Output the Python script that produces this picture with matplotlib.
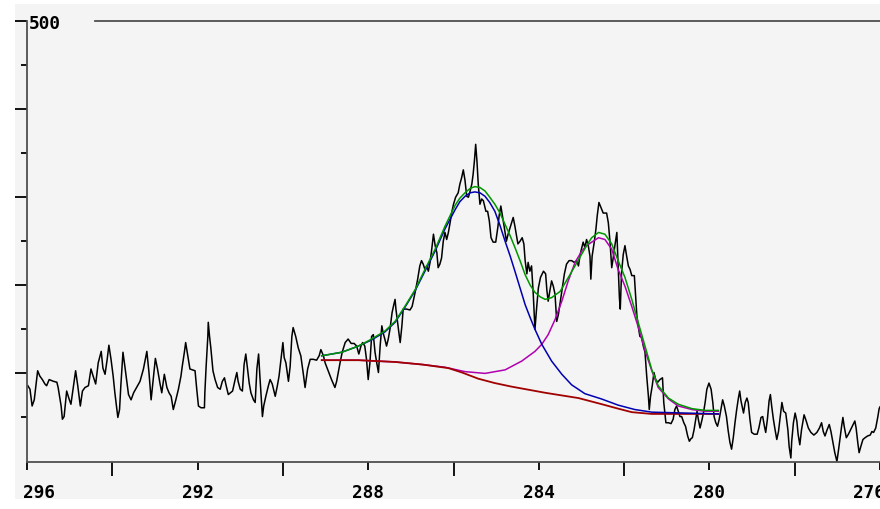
import matplotlib
matplotlib.use("Agg")
import matplotlib.pyplot as plt
from matplotlib.patches import Rectangle
from matplotlib.transforms import ScaledTranslation

# Measured spectrum: binding energy (eV) and counts
be = [
    295.98, 295.93, 295.88, 295.83, 295.75, 295.70, 295.64, 295.58, 295.54, 295.48,
    295.38, 295.30, 295.27, 295.20, 295.17, 295.13, 295.07, 295.02, 294.97, 294.91,
    294.86, 294.81, 294.75, 294.70, 294.64, 294.56, 294.50, 294.45, 294.39, 294.33,
    294.26, 294.22, 294.17, 294.12, 294.08, 294.03, 293.98, 293.94, 293.87, 293.83,
    293.80, 293.75, 293.70, 293.62, 293.56, 293.50, 293.43, 293.35, 293.27, 293.19,
    293.14, 293.09, 293.04, 292.99, 292.94, 292.88, 292.84, 292.78, 292.72, 292.67,
    292.62, 292.57, 292.51, 292.45, 292.39, 292.36, 292.31, 292.28, 292.23, 292.18,
    292.12, 292.06, 292.02, 291.98, 291.92, 291.84, 291.83, 291.80, 291.76, 291.75,
    291.72, 291.69, 291.64, 291.59, 291.53, 291.47, 291.42, 291.37, 291.33, 291.28,
    291.23, 291.18, 291.12, 291.08, 291.05, 291.00, 290.95, 290.91, 290.87, 290.83,
    290.79, 290.75, 290.69, 290.65, 290.61, 290.57, 290.54, 290.48, 290.45, 290.40,
    290.34, 290.30, 290.25, 290.18, 290.13, 290.09, 290.04, 290.00, 289.97, 289.93,
    289.87, 289.83, 289.79, 289.76, 289.70, 289.64, 289.58, 289.52, 289.48, 289.42,
    289.36, 289.29, 289.21, 289.15, 289.11, 289.05, 289.01, 288.94, 288.86, 288.78,
    288.74, 288.66, 288.61, 288.54, 288.47, 288.40, 288.33, 288.27, 288.22, 288.17,
    288.13, 288.08, 288.04, 288.00, 287.96, 287.92, 287.88, 287.84, 287.80, 287.76,
    287.72, 287.68, 287.65, 287.61, 287.57, 287.53, 287.49, 287.44, 287.40, 287.37,
    287.35, 287.32, 287.28, 287.25, 287.21, 287.18, 287.10, 287.02, 286.97, 286.90,
    286.84, 286.79, 286.75, 286.71, 286.67, 286.63, 286.59, 286.55, 286.51, 286.47,
    286.43, 286.39, 286.36, 286.32, 286.28, 286.24, 286.20, 286.16, 286.12, 286.08,
    286.04, 286.00, 285.95, 285.89, 285.85, 285.81, 285.77, 285.73, 285.69, 285.65,
    285.61, 285.57, 285.54, 285.51, 285.48, 285.45, 285.42, 285.38, 285.34, 285.30,
    285.24, 285.20, 285.16, 285.12, 285.07, 285.01, 284.96, 284.93, 284.89, 284.86,
    284.81, 284.76, 284.72, 284.65, 284.60, 284.56, 284.49, 284.44, 284.39, 284.35,
    284.32, 284.28, 284.25, 284.21, 284.17, 284.13, 284.09, 284.05, 284.01, 283.96,
    283.89, 283.84, 283.81, 283.78, 283.74, 283.70, 283.66, 283.62, 283.58, 283.54,
    283.50, 283.45, 283.40, 283.35, 283.29, 283.23, 283.17, 283.11, 283.07, 283.03,
    282.99, 282.96, 282.92, 282.88, 282.84, 282.80, 282.78, 282.75, 282.70, 282.66,
    282.63, 282.59, 282.54, 282.49, 282.41, 282.37, 282.33, 282.29, 282.25, 282.21,
    282.17, 282.14, 282.11, 282.09, 282.06, 282.02, 281.98, 281.94, 281.90, 281.86,
    281.82, 281.76, 281.73, 281.70, 281.67, 281.63, 281.59, 281.55, 281.51, 281.47,
    281.43, 281.41, 281.38, 281.34, 281.30, 281.26, 281.21, 281.16, 281.10, 281.07,
    281.02, 280.96, 280.90, 280.85, 280.81, 280.77, 280.73, 280.69, 280.65, 280.60,
    280.56, 280.51, 280.47, 280.43, 280.40, 280.36, 280.32, 280.29, 280.26, 280.22,
    280.18, 280.14, 280.10, 280.06, 280.01, 279.96, 279.92, 279.89, 279.85, 279.81,
    279.77, 279.73, 279.69, 279.65, 279.60, 279.56, 279.52, 279.48, 279.44, 279.40,
    279.36, 279.32, 279.29, 279.26, 279.20, 279.16, 279.12, 279.09, 279.05, 279.01,
    278.95, 278.88, 278.84, 278.79, 278.75, 278.71, 278.68, 278.64, 278.60, 278.57,
    278.54, 278.50, 278.46, 278.42, 278.38, 278.34, 278.30, 278.26, 278.21, 278.16,
    278.13, 278.09, 278.07, 278.03, 277.99, 277.95, 277.92, 277.88, 277.84, 277.78,
    277.73, 277.68, 277.62, 277.55, 277.48, 277.42, 277.37, 277.33, 277.29, 277.24,
    277.19, 277.15, 277.10, 277.06, 277.01, 276.97, 276.93, 276.90, 276.87, 276.84,
    276.79, 276.74, 276.69, 276.63, 276.59, 276.56, 276.52, 276.49, 276.45, 276.40,
    276.35, 276.29, 276.23, 276.19, 276.15, 276.10, 276.05, 276.02, 276.00,
]
counts = [
    86, 82, 63, 70, 103, 97, 93, 88, 86, 93,
    91, 90, 84, 63, 48, 51, 80, 72, 65, 86,
    103, 86, 63, 80, 84, 86, 105, 97, 88, 112,
    125, 106, 99, 116, 132, 116, 97, 78, 50, 59,
    86, 124, 106, 76, 70, 78, 84, 91, 105, 125,
    101, 70, 93, 117, 105, 88, 78, 99, 84, 78,
    74, 59, 70, 82, 97, 108, 124, 135, 120, 105,
    104, 103, 82, 63, 61, 61, 78, 108, 142, 158,
    142, 129, 103, 93, 84, 82, 91, 95, 86, 76,
    78, 80, 93, 101, 91, 82, 80, 110, 122, 106,
    89, 78, 70, 67, 105, 122, 97, 51, 63, 74,
    86, 93, 88, 74, 86, 97, 118, 135, 118, 112,
    91, 108, 142, 152, 142, 129, 120, 99, 84, 105,
    116, 116, 115, 120, 127, 120, 112, 103, 93, 84,
    91, 112, 124, 135, 139, 134, 134, 131, 122, 131,
    135, 131, 116, 93, 112, 142, 144, 124, 112, 101,
    131, 154, 146, 139, 131, 139, 150, 169, 178, 184,
    173, 161, 146, 135, 154, 173, 173, 172, 176, 192,
    207, 222, 228, 224, 218, 222, 216, 226, 241, 258,
    245, 237, 220, 224, 231, 250, 260, 252, 260, 271,
    283, 292, 300, 305, 315, 322, 331, 319, 301, 300,
    307, 315, 326, 341, 360, 341, 315, 292, 298, 296,
    284, 284, 273, 254, 249, 249, 266, 279, 290, 281,
    266, 250, 258, 269, 277, 267, 247, 250, 254, 247,
    228, 213, 226, 216, 222, 190, 150, 175, 197, 209,
    216, 213, 194, 182, 194, 205, 199, 190, 159, 167,
    180, 197, 213, 224, 228, 228, 226, 228, 222, 235,
    243, 249, 243, 252, 245, 233, 207, 233, 249, 264,
    279, 294, 288, 282, 282, 271, 249, 220, 233, 247,
    260, 222, 186, 173, 214, 235, 245, 233, 222, 218,
    211, 211, 188, 165, 154, 142, 141, 131, 124, 97,
    74, 59, 74, 86, 101, 93, 90, 93, 95, 67,
    44, 44, 43, 48, 59, 63, 57, 51, 51, 44,
    40, 29, 23, 26, 27, 36, 48, 57, 48, 38,
    46, 55, 67, 82, 89, 82, 67, 51, 44, 40,
    48, 59, 70, 63, 51, 35, 22, 14, 27, 44,
    59, 72, 80, 69, 55, 67, 72, 67, 48, 33,
    31, 31, 38, 50, 51, 40, 33, 48, 69, 76,
    63, 48, 36, 25, 34, 51, 67, 57, 55, 36,
    17, 4, 23, 44, 55, 46, 31, 19, 36, 53,
    46, 38, 33, 30, 33, 38, 44, 34, 29, 36,
    42, 34, 21, 10, 0, 14, 29, 40, 50, 40,
    27, 31, 36, 42, 46, 38, 21, 10, 17, 25,
    27, 29, 30, 34, 33, 38, 51, 60, 62,
]

# Shirley-type background under the fitted region
bg_be = [289.09, 288.23, 287.37, 286.72, 286.12, 285.80, 285.42, 285.03, 284.64,
         283.85, 283.07, 282.52, 282.14, 281.82, 281.35, 280.57, 279.79]
bg_counts = [115, 115, 113, 110, 106, 101, 94, 89, 85,
             78, 72, 65, 60, 56, 54, 54, 54]

# Component 1 (on background)
c1_be = [289.09, 288.62, 288.23, 287.92, 287.61, 287.37, 287.14, 286.90, 286.67, 286.43,
         286.20, 286.08, 285.96, 285.85, 285.73, 285.61, 285.50, 285.38, 285.26, 285.15,
         285.03, 284.91, 284.79, 284.67, 284.56, 284.44, 284.32, 284.20, 284.09, 283.93,
         283.70, 283.46, 283.23, 282.92, 282.53, 282.14, 281.75, 281.35, 280.57, 279.79]
c1_counts = [120, 124, 131, 138, 147, 158, 175, 194, 216, 239,
             264, 275, 286, 295, 301, 305, 306, 305, 301, 294,
             284, 268, 250, 233, 216, 197, 178, 163, 150, 133,
             114, 99, 87, 77, 71, 64, 59, 56, 55, 54]

# Component 2 (on background)
c2_be = [289.09, 288.23, 287.37, 286.72, 286.20, 285.73, 285.26, 284.79, 284.40, 284.09,
         283.93, 283.78, 283.62, 283.46, 283.31, 283.15, 282.99, 282.88, 282.76, 282.60,
         282.45, 282.29, 282.14, 281.98, 281.82, 281.67, 281.51, 281.35, 281.20, 280.96,
         280.73, 280.41, 280.10, 279.79]
c2_counts = [115, 115, 113, 110, 107, 102, 100, 104, 114, 125,
             133, 144, 161, 182, 205, 226, 239, 245, 249, 254,
             252, 241, 218, 199, 176, 153, 126, 103, 84, 71,
             63, 59, 57, 57]

# Fit envelope
env_be = [289.09, 288.62, 288.23, 287.92, 287.61, 287.37, 287.14, 286.90, 286.67, 286.43,
          286.20, 286.08, 285.96, 285.85, 285.73, 285.61, 285.50, 285.38, 285.26, 285.15,
          285.03, 284.91, 284.79, 284.67, 284.56, 284.44, 284.32, 284.20, 284.09, 283.97,
          283.85, 283.70, 283.50, 283.27, 283.07, 282.88, 282.76, 282.60, 282.45, 282.29,
          282.14, 281.98, 281.82, 281.67, 281.51, 281.35, 281.20, 280.96, 280.73, 280.41,
          280.10, 279.79]
env_counts = [120, 124, 131, 139, 148, 159, 176, 195, 218, 241,
              267, 279, 291, 299, 305, 310, 312, 311, 307, 300,
              292, 282, 269, 256, 243, 228, 212, 200, 192, 187,
              184, 186, 193, 212, 229, 245, 254, 260, 258, 247,
              228, 209, 184, 158, 131, 104, 86, 72, 65, 60,
              58, 58]

x_ticks = [296, 292, 288, 284, 280, 276]
x_minor = [294, 290, 286, 282, 278]
y_ticks = [100, 200, 300, 400, 500]
y_minor = [50, 150, 250, 350, 450]

plt.rcParams['font.family'] = ['DejaVu Sans Mono']
plt.rcParams['font.weight'] = 'bold'

W, H = 880, 510
fig = plt.figure(figsize=(W / 100, H / 100), dpi=100)
fig.patch.set_facecolor('white')
fig.patches.append(Rectangle((15 / W, 10 / H), 865 / W, 495 / H,
                             transform=fig.transFigure, facecolor='#f4f4f4',
                             edgecolor='none', zorder=-10))

ax = fig.add_axes([27 / W, (H - 462.5) / H, 853 / W, 440.5 / H])
ax.set_zorder(1)
ax.set_facecolor('none')
ax.set_xlim(296, 276)
ax.set_ylim(0, 500)

spine_col = '#505050'
for side in ('top', 'right'):
    ax.spines[side].set_visible(False)
for side in ('left', 'bottom'):
    ax.spines[side].set_color(spine_col)
    ax.spines[side].set_linewidth(1.3)
ax.plot([68 / 853, 1], [1, 1], transform=ax.transAxes, color=spine_col,
        lw=1.3, clip_on=False)

ax.set_xticks(x_ticks)
ax.set_xticklabels([str(v) for v in x_ticks])
ax.set_xticks(x_minor, minor=True)
ax.set_yticks(y_ticks)
ax.set_yticks(y_minor, minor=True)
ax.tick_params(axis='x', which='major', direction='out', length=5.8, width=1.3,
               color='black', pad=9.7, labelsize=12.8)
ax.tick_params(axis='x', which='minor', direction='out', length=10.1, width=1.3,
               color='black')
ax.tick_params(axis='y', which='major', direction='out', length=8.6, width=1.3,
               color='black', labelleft=False)
ax.tick_params(axis='y', which='minor', direction='out', length=4.3, width=1.3,
               color='black')

# keep the end labels pulled in toward the plot
labels = ax.get_xticklabels()
labels[0].set_transform(labels[0].get_transform() +
                        ScaledTranslation(0.12, 0, fig.dpi_scale_trans))
labels[-1].set_transform(labels[-1].get_transform() +
                         ScaledTranslation(-0.11, 0, fig.dpi_scale_trans))

ax.annotate('500', xy=(0, 1), xycoords='axes fraction', xytext=(2, -2),
            textcoords='offset pixels', ha='left', va='center',
            fontsize=12.8, fontweight='bold', color='black')

ax.plot(be, counts, color='black', lw=1.1, zorder=2)
ax.plot(c2_be, c2_counts, color='#b000b0', lw=1.1, zorder=3)
ax.plot(bg_be, bg_counts, color='#a00000', lw=1.3, zorder=4)
ax.plot(c1_be, c1_counts, color='#0000b0', lw=1.1, zorder=5)
ax.plot(env_be, env_counts, color='#009600', lw=1.1, zorder=6)

fig.savefig('out.png', dpi=100, facecolor=fig.get_facecolor())
